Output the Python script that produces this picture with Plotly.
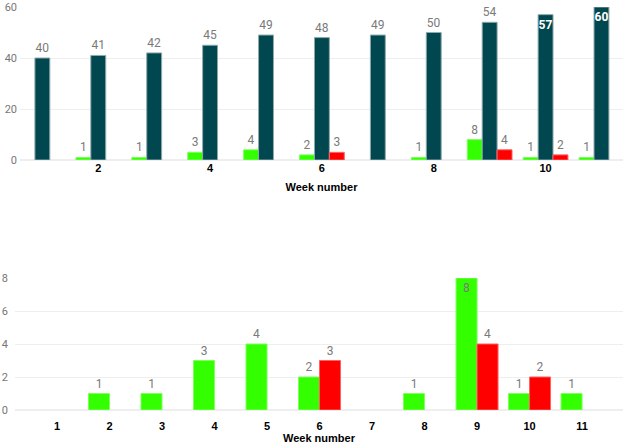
import plotly.graph_objects as go

weeks = [1, 2, 3, 4, 5, 6, 7, 8, 9, 10, 11]
green_vals = [None, 1, 1, 3, 4, 2, None, 1, 8, 1, 1]
dark_vals = [40, 41, 42, 45, 49, 48, 49, 50, 54, 57, 60]
red_vals = [None, None, None, None, None, 3, None, None, 4, 2, None]
top_ticks = [2, 4, 6, 8, 10]
top_yticks = [0, 20, 40, 60]
bottom_yticks = [0, 2, 4, 6, 8]

GREEN = "#33FF00"
DARK = "#01474F"
RED = "#FF0000"
LABEL = "#7a7a7a"
W = 628
H = 448

def px_x(x):
    return x / W

def px_y(y):
    return min(1.0, max(0.0, (H - y) / H))

def txt(vals):
    return ["" if v is None else str(v) for v in vals]

label_font = dict(family="Roboto, Liberation Sans, sans-serif", size=12)

fig = go.Figure()

# top chart
fig.add_trace(go.Bar(x=weeks, y=green_vals, text=txt(green_vals), textposition="outside",
                     marker=dict(color=GREEN, line=dict(color="#7dff5c", width=1)),
                     textfont=dict(color=LABEL, **label_font), cliponaxis=False,
                     constraintext="none", xaxis="x", yaxis="y", hoverinfo="skip"))
dark_pos = ["inside" if v >= 56 else "outside" for v in dark_vals]
dark_txt = [f"<b>{v}</b>" if v >= 56 else str(v) for v in dark_vals]
dark_col = ["white" if v >= 56 else LABEL for v in dark_vals]
fig.add_trace(go.Bar(x=weeks, y=dark_vals, text=dark_txt, textposition=dark_pos,
                     insidetextanchor="end",
                     marker=dict(color=DARK, line=dict(color="#8fa9ac", width=1)),
                     textfont=dict(color=dark_col, **label_font), cliponaxis=False,
                     constraintext="none", xaxis="x", yaxis="y", hoverinfo="skip"))
fig.add_trace(go.Bar(x=weeks, y=red_vals, text=txt(red_vals), textposition="outside",
                     marker=dict(color=RED, line=dict(color="#ff6060", width=1)),
                     textfont=dict(color=LABEL, **label_font), cliponaxis=False,
                     constraintext="none", xaxis="x", yaxis="y", hoverinfo="skip"))

# bottom chart
g_pos = ["inside" if (v is not None and v >= 8) else "outside" for v in green_vals]
fig.add_trace(go.Bar(x=weeks, y=green_vals, text=txt(green_vals), textposition=g_pos,
                     insidetextanchor="end",
                     marker=dict(color=GREEN, line=dict(color="#7dff5c", width=1)),
                     textfont=dict(color=LABEL, **label_font), cliponaxis=False,
                     constraintext="none", xaxis="x2", yaxis="y2", hoverinfo="skip"))
fig.add_trace(go.Bar(x=weeks, y=red_vals, text=txt(red_vals), textposition="outside",
                     marker=dict(color=RED, line=dict(color="#ff6060", width=1)),
                     textfont=dict(color=LABEL, **label_font), cliponaxis=False,
                     constraintext="none", xaxis="x2", yaxis="y2", hoverinfo="skip"))

tick_font_x = dict(family="Liberation Sans, Arial, sans-serif", size=11, color="black", weight="bold")
tick_font_y = dict(family="Roboto, Liberation Sans, sans-serif", size=11, color="#777777")
title_font = dict(family="Liberation Sans, Arial, sans-serif", size=11, color="black", weight="bold")

fig.update_layout(
    width=W, height=H,
    margin=dict(l=0, r=0, t=0, b=0, autoexpand=False),
    paper_bgcolor="white", plot_bgcolor="white",
    showlegend=False,
    barmode="group", bargap=0.2, bargroupgap=0,
    xaxis=dict(domain=[px_x(20), px_x(623)], anchor="y", range=[0.6, 11.385],
               tickvals=top_ticks, ticktext=[str(t) for t in top_ticks],
               tickfont=tick_font_x, showgrid=False, zeroline=False, showline=False,
               ticks="", ticklabelstandoff=0, automargin=False,
               title=dict(text="Week number", font=title_font, standoff=10)),
    yaxis=dict(domain=[px_y(160), px_y(7)], anchor="x", range=[0, 60],
               tickvals=top_yticks, tickfont=tick_font_y, showgrid=True,
               gridcolor="#eeeeee", gridwidth=1, zeroline=True, zerolinecolor="#eeeeee",
               showline=False, ticks="", ticklabelstandoff=2, automargin=False),
    xaxis2=dict(domain=[px_x(15), px_x(623)], anchor="y2", range=[0.2, 11.78],
                tickvals=weeks, ticktext=[str(w) for w in weeks],
                tickfont=tick_font_x, showgrid=False, zeroline=False, showline=False,
                ticks="", ticklabelstandoff=8, automargin=False,
                title=dict(text="Week number", font=title_font, standoff=1)),
    yaxis2=dict(domain=[px_y(410), px_y(278)], anchor="x2", range=[0, 8],
                tickvals=bottom_yticks, tickfont=tick_font_y, showgrid=True,
                gridcolor="#eeeeee", gridwidth=1, zeroline=True, zerolinecolor="#eeeeee",
                showline=False, ticks="", ticklabelstandoff=6, automargin=False),
)

fig.write_html("out.html", config={"displayModeBar": False},
               post_script="document.body.style.margin='0px';")
